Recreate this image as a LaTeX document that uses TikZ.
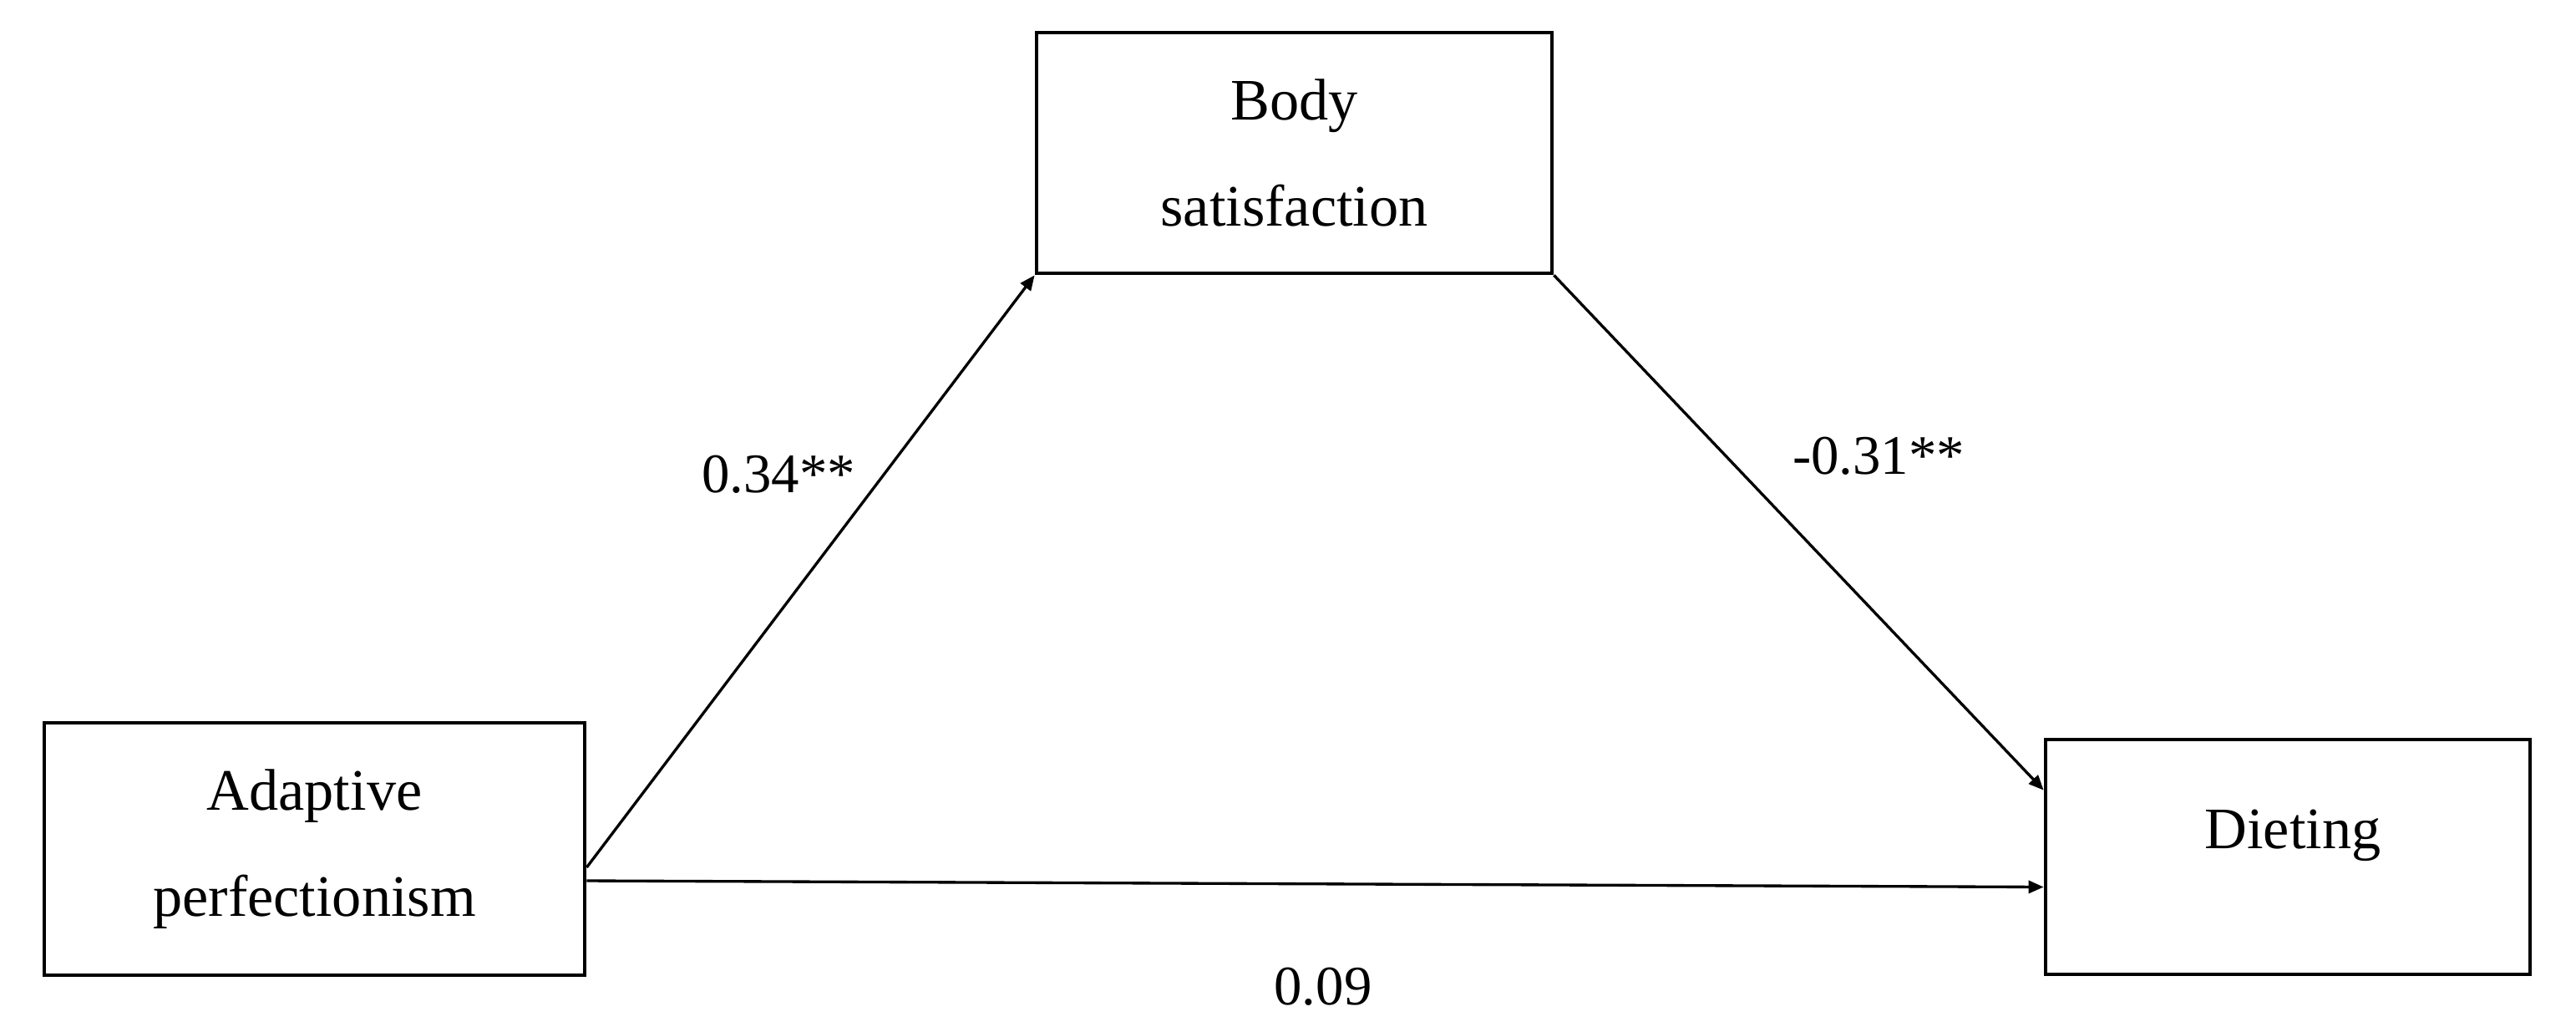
\documentclass[tikz,border=0pt]{standalone}
\usepackage{fontspec}
\setmainfont{Liberation Serif}
\usetikzlibrary{arrows.meta}
\begin{document}
\begin{tikzpicture}[
  varbox/.style={draw=black, line width=1.35pt, rectangle, align=center,
    font=\fontsize{20}{36}\selectfont, inner sep=0pt},
  lbl/.style={font=\fontsize{19}{23}\selectfont, inner sep=0pt},
  arr/.style={draw=black, line width=0.95pt, -{Triangle[length=0.18cm,width=0.15cm]}}
]
\useasboundingbox[fill=white] (0,0) rectangle (30.84,12.34);

\node[varbox, minimum width=6.47cm, minimum height=3.02cm] (ap) at (3.765,2.18)
  {Adaptive\\perfectionism};
\node[varbox, minimum width=6.17cm, minimum height=2.88cm] (bs) at (15.495,10.51)
  {Body\\satisfaction};
\node[varbox, minimum width=5.80cm, minimum height=2.81cm] (di) at (27.39,2.085) {};
\node[varbox, draw=none, anchor=base] (ditxt) at (27.45,2.19) {Dieting};

\coordinate (a1) at ([yshift=-0.22cm]ap.east);
\coordinate (a2) at ([yshift=-0.38cm]ap.east);
\coordinate (d1) at ([yshift=-0.63cm]di.north west);
\coordinate (d2) at ([yshift=-0.36cm]di.west);

\draw[arr] (a1) -- (bs.south west);
\draw[arr] (bs.south east) -- (d1);
\draw[arr] (a2) -- (d2);

\node[lbl] (l1) at (9.32,6.66) {0.34**};
\node[lbl] (l2) at (22.49,6.88) {-0.31**};
\node[lbl] (l3) at (15.84,0.53) {0.09};
\end{tikzpicture}
\end{document}
